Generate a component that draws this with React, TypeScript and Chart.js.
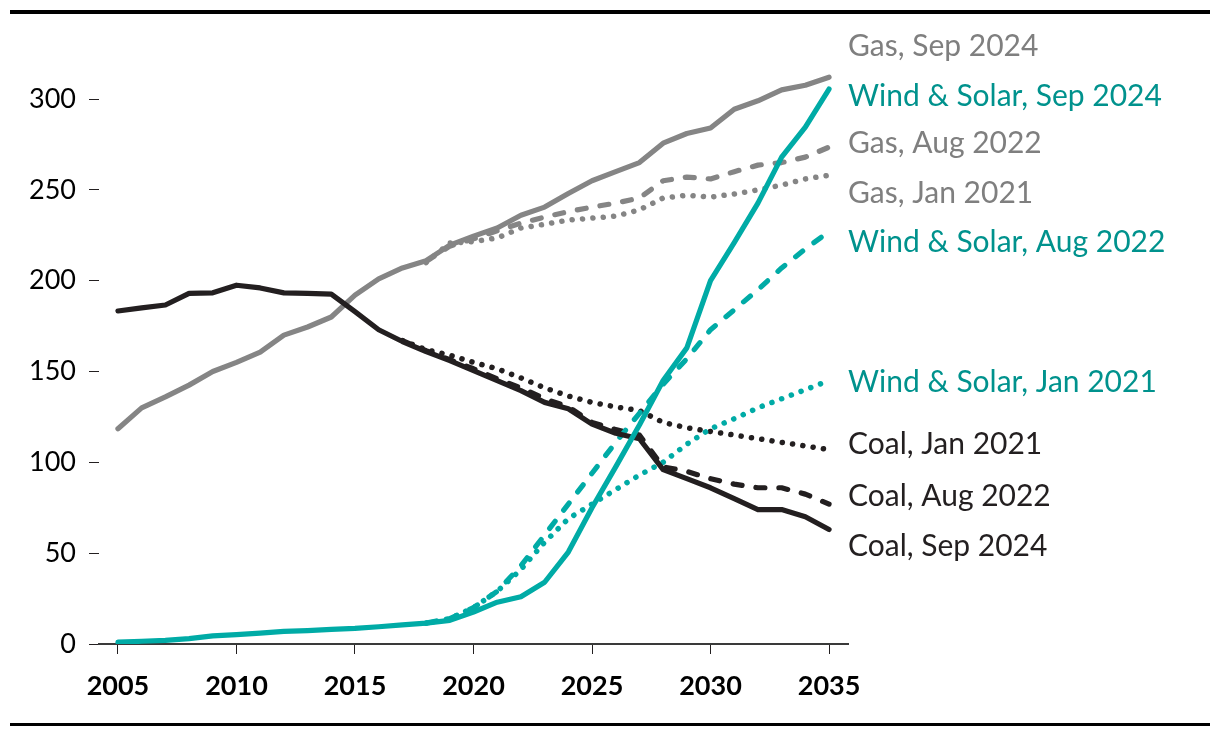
import React, { useEffect, useRef } from "react";
import { Chart, registerables } from "chart.js";

Chart.register(...registerables);

const years = [
  2005, 2006, 2007, 2008, 2009, 2010, 2011, 2012, 2013, 2014, 2015, 2016, 2017, 2018, 2019, 2020,
  2021, 2022, 2023, 2024, 2025, 2026, 2027, 2028, 2029, 2030, 2031, 2032, 2033, 2034, 2035,
];
const xTicks = [2005, 2010, 2015, 2020, 2025, 2030, 2035];
const yTicks = [0, 50, 100, 150, 200, 250, 300];

const N = null;
const gasSep2024 = [
  118.5, 130, 136, 142.5, 150, 155, 160.7, 170, 174.5, 180, 192, 201, 207, 211, 219.6, 224.5,
  229, 236, 240.5, 248, 255, 260, 265, 275.7, 281, 284, 294.4, 299, 305, 307.6, 312,
];
const gasAug2022 = [
  N, N, N, N, N, N, N, N, N, N, N, N, N, 210.5, 219, 223,
  227.5, 231.7, 235, 238, 240.5, 242.7, 245.5, 255, 257, 256, 260, 263.6, 265, 268, 273.5,
];
const gasJan2021 = [
  N, N, N, N, N, N, N, N, N, N, N, N, N, 210, 220.7, 221.5,
  223.5, 229, 231, 233.4, 234.4, 235.5, 239, 245.5, 247, 246, 247.7, 250, 252.6, 256, 258,
];
const wsSep2024 = [
  1, 1.5, 2, 3, 4.5, 5.2, 6, 7, 7.4, 8, 8.6, 9.5, 10.5, 11.5, 13, 17.6,
  23, 26, 34, 50.6, 75, 97.5, 120.5, 145, 163, 200, 221, 242.7, 268, 284.5, 305.5,
];
const wsAug2022 = [
  N, N, N, N, N, N, N, N, N, N, N, N, N, 11.5, 14, 20,
  29, 43, 60, 77, 94, 111, 127, 143, 157, 173, 184, 195, 207, 217.5, 227,
];
const wsJan2021 = [
  N, N, N, N, N, N, N, N, N, N, N, N, N, 11.5, 14, 20,
  29, 41, 56, 69, 77, 85, 93, 100, 110, 118.5, 124, 130, 135, 140, 145,
];
const coalSep2024 = [
  183.3, 185, 186.6, 193, 193.3, 197.5, 196, 193.3, 193, 192.6, 183, 173, 166.5, 161, 156, 150.5,
  145, 139.5, 133, 129.5, 121, 116, 113, 96, 91, 86, 80, 74, 74, 70, 63,
];
const coalAug2022 = [
  N, N, N, N, N, N, N, N, N, N, N, N, 167, 161.5, 156.5, 151.5,
  146, 141, 135, 130.5, 122, 118, 115, 97.5, 95, 91, 88, 86, 86, 82.5, 77,
];
const coalJan2021 = [
  N, N, N, N, N, N, N, N, N, N, N, N, 167, 162, 159, 155,
  151.5, 146.5, 141, 136.5, 133, 130.5, 128.5, 122, 119, 117, 115, 113, 111, 109, 107,
];

const endLabels = [
  "Gas, Sep 2024",
  "Wind & Solar, Sep 2024",
  "Gas, Aug 2022",
  "Gas, Jan 2021",
  "Wind & Solar, Aug 2022",
  "Wind & Solar, Jan 2021",
  "Coal, Jan 2021",
  "Coal, Aug 2022",
  "Coal, Sep 2024",
];
const endLabelValues = [323.7, 296.1, 270.3, 242.7, 215.8, 138.7, 104.6, 76, 48.4];

const GRAY = "#858585";
const GRAY_TEXT = "#7f7f7f";
const TEAL = "#00aba6";
const TEAL_TEXT = "#00928d";
const BLACK = "#231f20";
const FONT = "Lato";

const DASHED = [9, 14];
const DOTTED = [0.1, 10.3];

function labelColor(name: string) {
  if (name.startsWith("Gas")) return GRAY_TEXT;
  if (name.startsWith("Wind")) return TEAL_TEXT;
  return BLACK;
}

function series(values: (number | null)[], color: string, dash: number[]) {
  return {
    data: years.map((x, i) => ({ x, y: values[i] })),
    borderColor: color,
    borderDash: dash,
    borderWidth: dash === DOTTED ? 5.5 : 5.2,
    borderCapStyle: "round" as const,
    borderJoinStyle: "round" as const,
    pointRadius: 0,
    tension: 0,
    fill: false,
  };
}

const decorPlugin = {
  id: "decor",
  afterDraw(chart: any) {
    const { ctx } = chart;
    const yScale = chart.scales.y;
    ctx.save();
    ctx.fillStyle = "#000";
    ctx.fillRect(10, 10, 1200, 4);
    ctx.fillRect(10, 723, 1200, 3);
    ctx.font = `30px ${FONT}`;
    ctx.textAlign = "left";
    ctx.textBaseline = "alphabetic";
    endLabels.forEach((name, i) => {
      ctx.fillStyle = labelColor(name);
      ctx.fillText(name, 848, yScale.getPixelForValue(endLabelValues[i]));
    });
    ctx.restore();
  },
};

export default function App() {
  const ref = useRef<HTMLCanvasElement | null>(null);
  useEffect(() => {
    if (!ref.current) return;
    const chart = new Chart(ref.current, {
      type: "line",
      data: {
        datasets: [
          series(wsSep2024, TEAL, []),
          series(coalSep2024, BLACK, []),
          series(gasSep2024, GRAY, []),
          series(wsAug2022, TEAL, DASHED),
          series(coalAug2022, BLACK, DASHED),
          series(gasAug2022, GRAY, DASHED),
          series(wsJan2021, TEAL, DOTTED),
          series(coalJan2021, BLACK, DOTTED),
          series(gasJan2021, GRAY, DOTTED),
        ] as any,
      },
      options: {
        animation: false,
        responsive: false,
        devicePixelRatio: 1,
        layout: { padding: { left: 0, right: 372, top: 44.5, bottom: 0 } },
        plugins: { legend: { display: false }, tooltip: { enabled: false } },
        scales: {
          x: {
            type: "linear",
            min: 2004.2,
            max: 2035.8,
            afterBuildTicks: (axis: any) => {
              axis.ticks = xTicks.map((v) => ({ value: v }));
            },
            afterFit: (axis: any) => {
              axis.height = 92;
            },
            ticks: {
              callback: (v: any) => String(v),
              color: "#000",
              font: { family: FONT, size: 27, weight: "bold" },
              padding: 16,
              maxRotation: 0,
              autoSkip: false,
            },
            grid: {
              drawOnChartArea: false,
              drawTicks: true,
              tickLength: 10,
              color: BLACK,
              lineWidth: 1,
            },
            border: { display: true, color: "#3a3a3a", width: 2 },
          },
          y: {
            min: 0,
            max: 330,
            afterBuildTicks: (axis: any) => {
              axis.ticks = yTicks.map((v) => ({ value: v }));
            },
            afterFit: (axis: any) => {
              axis.width = 99;
            },
            ticks: {
              callback: (v: any) => String(v),
              color: "#000",
              font: { family: FONT, size: 27 },
              padding: 13,
            },
            grid: {
              drawOnChartArea: false,
              drawTicks: true,
              tickLength: 10,
              color: BLACK,
              lineWidth: 1,
            },
            border: { display: false },
          },
        },
      } as any,
      plugins: [decorPlugin],
    });
    return () => chart.destroy();
  }, []);
  return (
    <div style={{ position: "fixed", left: 0, top: 0, width: 1220, height: 736, background: "#fff" }}>
      <canvas ref={ref} width={1220} height={736} style={{ display: "block" }} />
    </div>
  );
}
